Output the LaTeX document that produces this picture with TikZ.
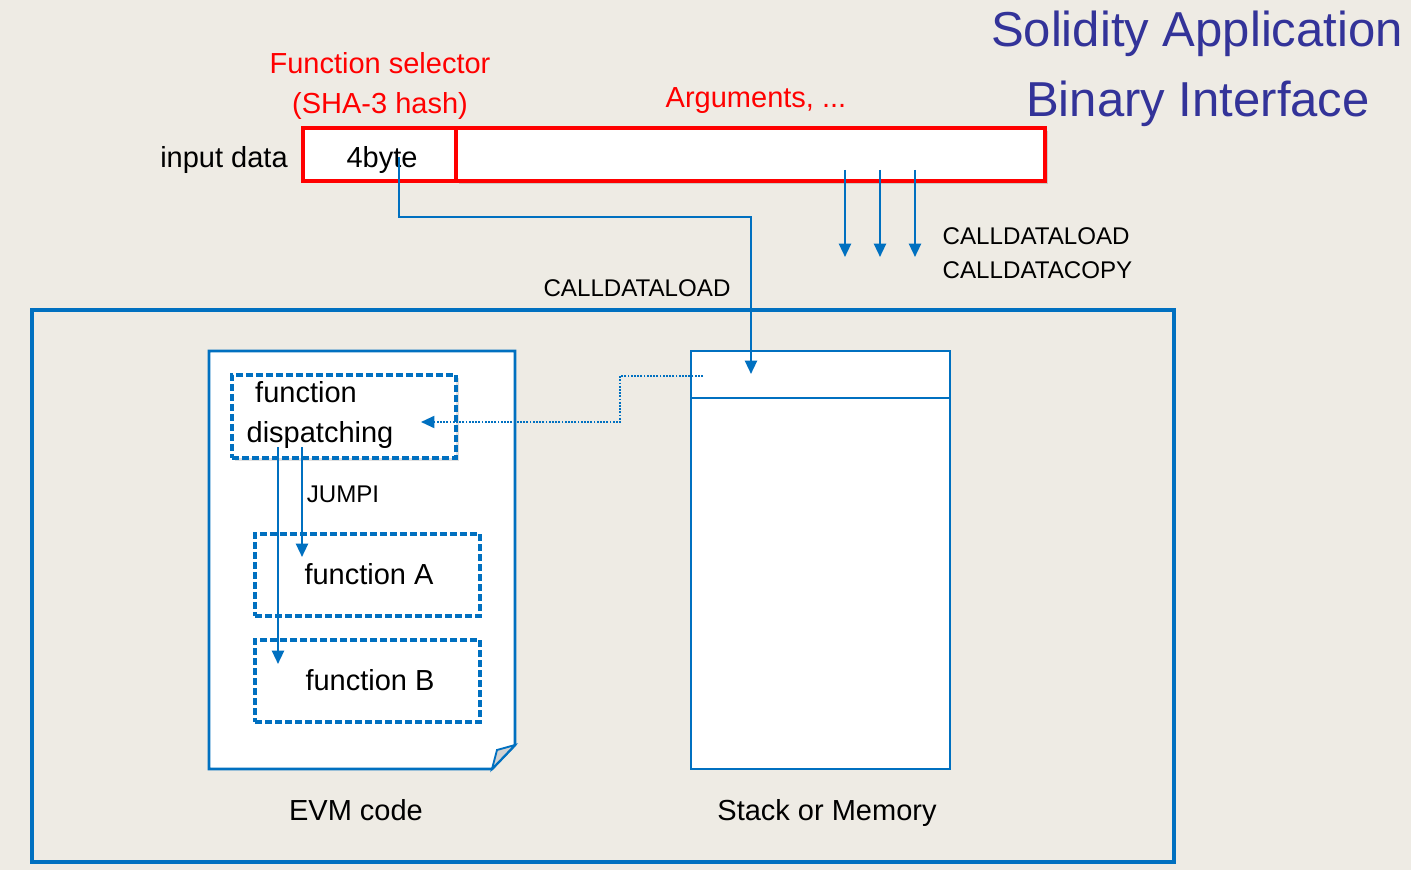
\documentclass[tikz,border=0pt]{standalone}
\usepackage{fontspec}
\setmainfont{Liberation Sans}
\usetikzlibrary{arrows.meta,shadows}
\definecolor{bg}{HTML}{EEEBE4}
\definecolor{eblue}{HTML}{0070C0}
\definecolor{titleblue}{HTML}{333399}
\definecolor{sred}{HTML}{FF0000}
\tikzset{
  big/.style={font=\fontsize{21.75pt}{24pt}\selectfont},
  small/.style={font=\fontsize{18.1pt}{20pt}\selectfont},
  redbox/.style={draw=sred,line width=3pt,fill=white,inner sep=0pt,outer sep=0pt},
  dashbox/.style={draw=eblue,line width=2.6pt,dash pattern=on 5pt off 2.5pt,fill=white,inner sep=0pt,outer sep=0pt},
  solidbox/.style={draw=eblue,line width=2pt,fill=white,inner sep=0pt,outer sep=0pt},
  arr/.style={draw=eblue,line width=1.7pt,-{Triangle[width=9pt,length=10pt]}},
  dotarr/.style={draw=eblue,line width=1.4pt,densely dotted,-{Triangle[width=9pt,length=10pt]}},
}
\begin{document}
\begin{tikzpicture}[x=0.75pt,y=-0.75pt]
\fill[bg] (0,0) rectangle (1411,870);
\useasboundingbox (0,0) rectangle (1411,870);

% title
\node[titleblue,font=\fontsize{36.8pt}{40pt}\selectfont] (t1) at (1197,34) {Solidity Application};
\node[titleblue,font=\fontsize{36.8pt}{40pt}\selectfont] (t2) at (1198,104) {Binary Interface};

% labels above
\node[big,sred] (fs1) at (380,63) {Function selector};
\node[big,sred] (fs2) at (380,106) {(SHA-3 hash)};
\node[big,sred] (argl) at (756,101) {Arguments, ...};
\node[big] (inp) at (224,160) {input data};

% outer box
\node[draw=eblue,line width=2.4pt,inner sep=0pt,minimum width=856.5pt,minimum height=414pt] (outer) at (603,586) {};

% red input data
\node[redbox,minimum width=441.75pt,minimum height=39.75pt,drop shadow={shadow xshift=2.5pt,shadow yshift=-2.5pt,opacity=.3}] (args) at (750.5,154.5) {};
\node[redbox,minimum width=114.75pt,minimum height=39.75pt] (sel) at (379.5,154.5) {};
\node[big] (fb) at (382,160) {4byte};

% EVM code document
\filldraw[draw=eblue,line width=2pt,fill=white] (209,351) -- (515,351) -- (515,745) -- (492,769) -- (209,769) -- cycle;
\filldraw[draw=eblue,line width=1.4pt,fill=gray!35] (492,769) -- (497,750) -- (515,745) -- cycle;

% stack or memory
\node[solidbox,minimum width=194.25pt,minimum height=313.5pt] (stack) at (820.5,560) {};
\draw[eblue,line width=2pt] (stack.west |- 0,398) -- (stack.east |- 0,398);

% function boxes
\node[dashbox,minimum width=168pt,minimum height=62.25pt,drop shadow={shadow xshift=2pt,shadow yshift=-2pt,opacity=.25}] (disp) at (344,416.5) {};
\node[big] (dl1) at (306,392) {function};
\node[big] (dl2) at (320,435) {dispatching};
\node[dashbox,minimum width=168.75pt,minimum height=61.5pt] (fA) at (367.5,575) {};
\node[big] at (369,574) (fAl) {function A};
\node[dashbox,minimum width=168.75pt,minimum height=61.5pt] (fB) at (367.5,681) {};
\node[big] at (370,680) (fBl) {function B};

% text labels
\node[small] (jumpi) at (343,494) {JUMPI};
\node[small] (cdl) at (637,288) {CALLDATALOAD};
\node[small,anchor=west] (cdl2) at (938,236) {CALLDATALOAD};
\node[small,anchor=west] (cdc) at (938,270) {CALLDATACOPY};
\node[big] (evm) at (356,810) {EVM code};
\node[big] (sm) at (827,813) {Stack or Memory};

% connectors
\coordinate (c1) at (399,157);
\coordinate (c1b) at (399,217);
\coordinate (c1e) at (751,374);
\draw[arr] (c1) -- (c1b) -| (c1e);

\foreach \x/\n in {845/a,880/b,915/c}{
  \coordinate (s\n) at (\x,170);
  \coordinate (e\n) at (\x,257);
  \draw[arr] (s\n) -- (e\n);
}

\coordinate (d1) at (703,376);
\coordinate (d2) at (620,376);
\coordinate (d3) at (421,422);
\draw[dotarr] (d1) -- (d2) |- (d3);

\coordinate (j1) at (302,447);
\coordinate (j1e) at (302,557);
\coordinate (j2) at (278,447);
\coordinate (j2e) at (278,664);
\draw[arr] (j1) -- (j1e);
\draw[arr] (j2) -- (j2e);
\end{tikzpicture}
\end{document}
